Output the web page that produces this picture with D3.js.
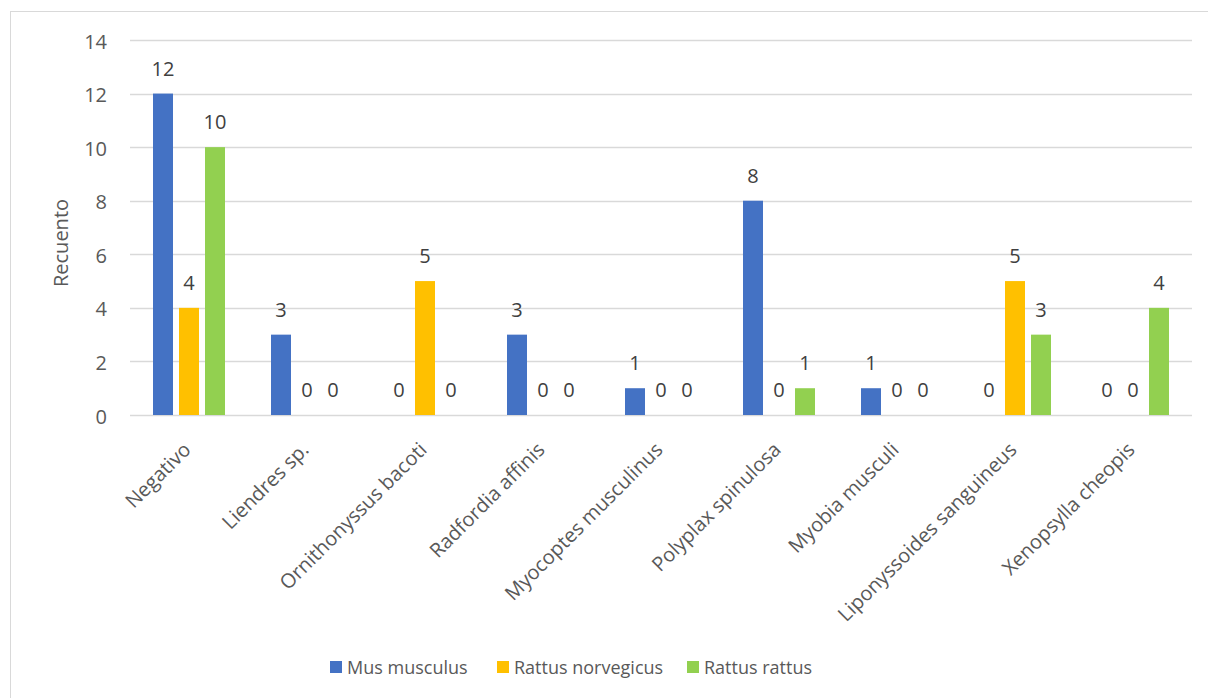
<!DOCTYPE html>
<html><head><meta charset="utf-8">
<script src="https://cdn.jsdelivr.net/npm/d3@7"></script>
<style>
html,body{margin:0;padding:0;background:#fff;}
svg{display:block;font-family:"Open Sans",sans-serif;}
</style></head>
<body><svg id="c" width="1208" height="698"></svg>
<script>
const categories = ["Negativo","Liendres sp.","Ornithonyssus bacoti","Radfordia affinis","Myocoptes musculinus","Polyplax spinulosa","Myobia musculi","Liponyssoides sanguineus","Xenopsylla cheopis"];
const seriesNames = ["Mus musculus","Rattus norvegicus","Rattus rattus"];
const musMusculus = [12,3,0,3,1,8,1,0,0];
const rattusNorvegicus = [4,0,5,0,0,0,0,5,0];
const rattusRattus = [10,0,0,0,0,1,0,3,4];
const yTicks = [0,2,4,6,8,10,12,14];
const colors = ["#4472C4","#FFC000","#92D050"];
const seriesValues = [musMusculus, rattusNorvegicus, rattusRattus];

(function(){
const FONT = "Open Sans";
const svg = d3.select("#c");
svg.append("rect").attr("x",10.5).attr("y",11.5).attr("width",1220).attr("height",720)
  .attr("fill","none").attr("stroke","#d9d9d9").attr("stroke-width",1);

const pL=130, pR=1192, pT=40, pB=415;
const x = d3.scaleBand().domain(categories).range([pL,pR]).paddingInner(0).paddingOuter(0);
const y = d3.scaleLinear().domain([0,14]).range([pB,pT]);
const xs = d3.scaleBand().domain(d3.range(3)).range([23, x.bandwidth()-23]).paddingInner(6/26).paddingOuter(0);

svg.append("g").selectAll("line").data(yTicks).join("line")
  .attr("x1",pL).attr("x2",pR)
  .attr("y1",d=>Math.round(y(d))+0.5).attr("y2",d=>Math.round(y(d))+0.5)
  .attr("stroke","#d9d9d9").attr("stroke-width",1.5);

const yAxis = d3.axisLeft(y).tickValues(yTicks).tickSize(0).tickPadding(23);
const ga = svg.append("g").attr("transform",`translate(${pL},0)`).call(yAxis);
ga.attr("font-family",FONT).attr("font-size",20);
ga.select(".domain").remove();
ga.selectAll("text").attr("fill","#595959").attr("dy","0.4em");

svg.append("text").attr("transform",`translate(68,243) rotate(-90)`).attr("text-anchor","middle")
  .attr("font-family",FONT).attr("font-size",20).attr("fill","#595959").text("Recuento");

seriesValues.forEach((vals,si)=>{
  const g = svg.append("g");
  const data = vals.map((v,i)=>({v,c:categories[i]}));
  g.selectAll("rect").data(data.filter(d=>d.v>0)).join("rect")
    .attr("x",d=>x(d.c)+xs(si)).attr("width",xs.bandwidth())
    .attr("y",d=>y(d.v)).attr("height",d=>y(0)-y(d.v))
    .attr("fill",colors[si]);
  g.selectAll("text").data(data).join("text")
    .attr("x",d=>x(d.c)+xs(si)+xs.bandwidth()/2)
    .attr("y",d=>y(d.v)-18)
    .attr("text-anchor","middle").attr("font-family",FONT).attr("font-size",20).attr("fill","#404040")
    .text(d=>d.v);
});

const xAxis = d3.axisBottom(x).tickSize(0).tickPadding(0);
const gx = svg.append("g").attr("transform",`translate(0,${pB})`).call(xAxis);
gx.attr("font-family",FONT).attr("font-size",20);
gx.select(".domain").remove();
gx.selectAll("text").attr("fill","#595959")
  .attr("text-anchor","end").attr("dy",null).attr("y",0)
  .attr("transform","translate(3,36) rotate(-45)");

const legendX = [330,497,687];
const lg = svg.append("g");
seriesNames.forEach((n,i)=>{
  lg.append("rect").attr("x",legendX[i]).attr("y",661).attr("width",12).attr("height",12).attr("fill",colors[i]);
  lg.append("text").attr("x",legendX[i]+17).attr("y",674).attr("font-family",FONT).attr("font-size",18).attr("fill","#595959").text(n);
});
})();
</script></body></html>
